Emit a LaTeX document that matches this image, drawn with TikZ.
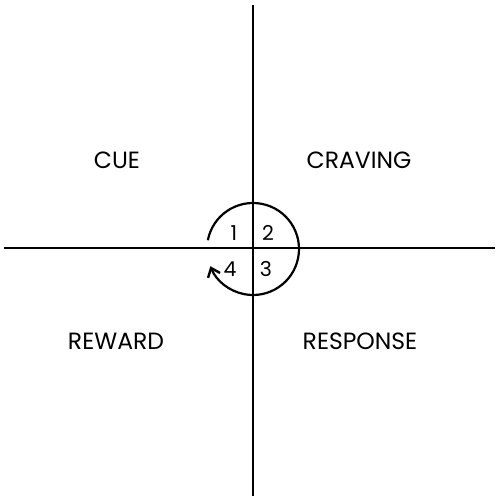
\documentclass[tikz,border=0pt]{standalone}
\usepackage{fontspec}
\setmainfont{Poppins}
\usetikzlibrary{arrows.meta}
\begin{document}
\begin{tikzpicture}[x=1pt,y=1pt,
  axis/.style={line width=1.8pt,black},
  lab/.style={font=\fontsize{23.5}{26}\selectfont,inner sep=0pt},
  num/.style={font=\fontsize{20.5}{22}\selectfont,inner sep=0pt}]
\useasboundingbox (0,0) rectangle (499,500);
\coordinate (L) at (4,252);
\coordinate (R) at (495,252);
\coordinate (T) at (253,495);
\coordinate (B) at (253,4);
\coordinate (C) at (253,251);
\draw[axis] (L) -- (R);
\draw[axis] (T) -- (B);
\draw[line width=2.2pt,-{Straight Barb[length=8pt,width=13pt,line width=2.4pt]}] ([shift={(169:46)}]C) arc[start angle=169,end angle=-158,radius=46];
\node[lab] (cue) at (117,340) {CUE};
\node[lab] (craving) at (359,340) {CRAVING};
\node[lab] (reward) at (116,159) {REWARD};
\node[lab] (response) at (360,159) {RESPONSE};
\node[num] (n1) at (234,267) {1};
\node[num] (n2) at (268,267) {2};
\node[num] (n3) at (266,231) {3};
\node[num] (n4) at (230,231) {4};
\end{tikzpicture}
\end{document}
